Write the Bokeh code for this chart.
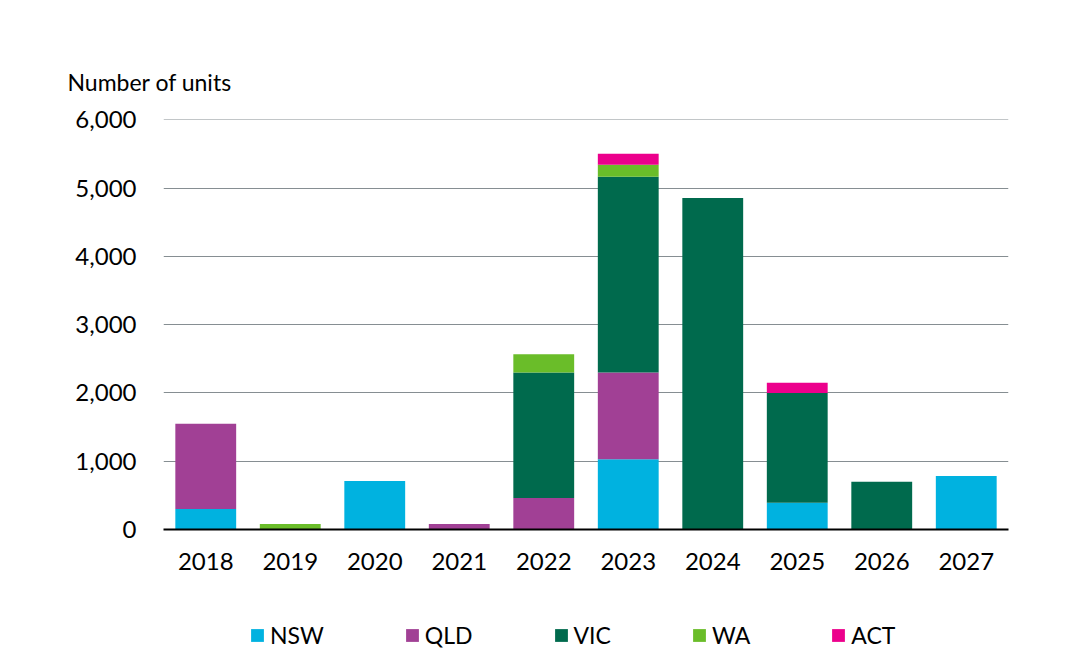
from bokeh.plotting import figure
from bokeh.layouts import column
from bokeh.models import FactorRange, Range1d, Legend, LegendItem, NumeralTickFormatter, FixedTicker, Title, ColumnDataSource
from bokeh.embed import file_html
from bokeh.resources import INLINE

years = ["2018", "2019", "2020", "2021", "2022", "2023", "2024", "2025", "2026", "2027"]
states = ["NSW", "QLD", "VIC", "WA", "ACT"]
nsw = [300, 0, 710, 0, 0, 1030, 0, 390, 0, 785]
qld = [1250, 0, 0, 80, 460, 1270, 0, 0, 0, 0]
vic = [0, 0, 0, 0, 1840, 2865, 4855, 1610, 700, 0]
wa = [0, 80, 0, 0, 265, 178, 0, 0, 0, 0]
act = [0, 0, 0, 0, 0, 162, 0, 150, 0, 0]
colors = ["#00B2E0", "#A14095", "#006A4D", "#6ABD29", "#EC008C"]

FONT = "Lato"

source = ColumnDataSource(dict(years=years, NSW=nsw, QLD=qld, VIC=vic, WA=wa, ACT=act))

p = figure(x_range=FactorRange(*years), y_range=Range1d(0, 6005),
           width=1085, height=585, output_backend="svg", toolbar_location=None,
           min_border_left=163, min_border_right=77, min_border_top=119, min_border_bottom=56)
p.outline_line_color = None

renderers = p.vbar_stack(states, x="years", width=0.72, color=colors, source=source, line_color=None)

p.xgrid.grid_line_color = None
p.ygrid.grid_line_color = "#868E92"
p.ygrid.grid_line_width = 1

p.yaxis.ticker = FixedTicker(ticks=[0, 1000, 2000, 3000, 4000, 5000, 6000])
p.yaxis.formatter = NumeralTickFormatter(format="0,0")
p.yaxis.axis_line_color = None
p.yaxis.major_tick_line_color = None
p.yaxis.minor_tick_line_color = None
p.yaxis.major_label_standoff = 21
p.yaxis.major_label_text_font = FONT
p.yaxis.major_label_text_font_size = "24px"
p.yaxis.major_label_text_color = "black"

p.xaxis.axis_line_color = "black"
p.xaxis.axis_line_width = 2
p.xaxis.major_tick_line_color = None
p.xaxis.minor_tick_line_color = None
p.xaxis.major_label_standoff = 17
p.xaxis.major_label_text_font = FONT
p.xaxis.major_label_text_font_size = "24px"
p.xaxis.major_label_text_color = "black"

t = Title(text="Number of units", align="left", offset=-96, text_font=FONT,
          text_font_size="23px", text_font_style="normal", text_color="black", standoff=48)
p.add_layout(t, "above")

# Legend strip below the chart (its frame is aligned with the chart's frame)
lf = figure(width=1085, height=84, output_backend="svg", toolbar_location=None,
            x_axis_location=None, y_axis_location=None,
            min_border_left=0, min_border_right=0, min_border_top=0, min_border_bottom=0,
            x_range=Range1d(0, 1), y_range=Range1d(0, 1))
lf.outline_line_color = None
lf.xgrid.grid_line_color = None
lf.ygrid.grid_line_color = None
items = []
for s, c in zip(states, colors):
    r = lf.vbar(x=[-1], top=[0], width=0.01, color=c, line_color=None)
    items.append(LegendItem(label=s, renderers=[r]))
legend = Legend(items=items, orientation="horizontal", location=(86, 20),
                spacing=80, padding=0, margin=0, border_line_color=None, background_fill_alpha=0,
                glyph_width=16, glyph_height=16, label_standoff=5, label_height=16,
                label_text_font=FONT, label_text_font_size="23px", label_text_color="black")
lf.add_layout(legend, "center")

open("out.html", "w").write(file_html(column(p, lf, spacing=0), INLINE))
